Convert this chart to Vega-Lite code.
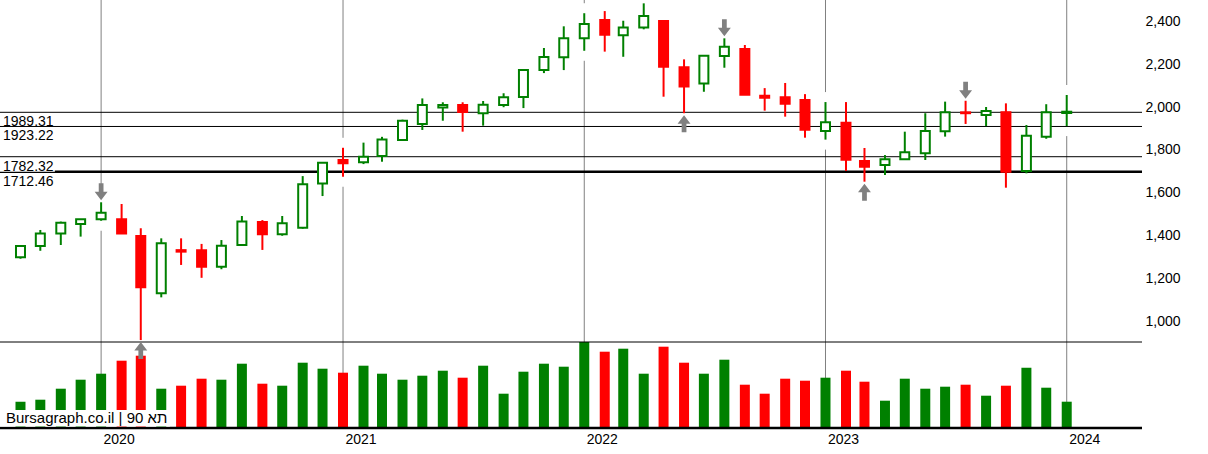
{
  "$schema": "https://vega.github.io/schema/vega-lite/v6.json",
  "width": 1142,
  "height": 428,
  "autosize": {"type": "none"},
  "padding": {"left": 0, "top": 0, "right": 66, "bottom": 26},
  "background": "white",
  "config": {"view": {"stroke": null}, "font": "Liberation Sans"},
  "datasets": {
    "years": [
      {"date": "2020-01-01", "year": "2020"}, {"date": "2021-01-01", "year": "2021"}, {"date": "2022-01-01", "year": "2022"}, {"date": "2023-01-01", "year": "2023"}, {"date": "2024-01-01", "year": "2024"}
    ],
    "levels": [
      {"price": 1989.31, "label": "1989.31"},
      {"price": 1923.22, "label": "1923.22"},
      {"price": 1782.32, "label": "1782.32"},
      {"price": 1712.46, "label": "1712.46"}
    ],
    "candles": [
      {"date": "2019-09-01", "open": 1314, "high": 1368, "low": 1307, "close": 1366, "volume": 26.3},
      {"date": "2019-10-01", "open": 1366, "high": 1441, "low": 1344, "close": 1425, "volume": 28.3},
      {"date": "2019-11-01", "open": 1425, "high": 1480, "low": 1371, "close": 1475, "volume": 39.3},
      {"date": "2019-12-01", "open": 1469, "high": 1492, "low": 1410, "close": 1491, "volume": 48.3},
      {"date": "2020-01-01", "open": 1491, "high": 1570, "low": 1484, "close": 1521, "volume": 54.3, "arrow": "down"},
      {"date": "2020-02-01", "open": 1491, "high": 1562, "low": 1423, "close": 1425, "volume": 67.3},
      {"date": "2020-03-01", "open": 1413, "high": 1449, "low": 928, "close": 1174, "volume": 72.3, "arrow": "up"},
      {"date": "2020-04-01", "open": 1146, "high": 1402, "low": 1127, "close": 1379, "volume": 39.3},
      {"date": "2020-05-01", "open": 1347, "high": 1402, "low": 1278, "close": 1340, "volume": 42.3},
      {"date": "2020-06-01", "open": 1347, "high": 1376, "low": 1218, "close": 1270, "volume": 49.3},
      {"date": "2020-07-01", "open": 1270, "high": 1394, "low": 1258, "close": 1368, "volume": 48.3},
      {"date": "2020-08-01", "open": 1371, "high": 1506, "low": 1371, "close": 1480, "volume": 64.3},
      {"date": "2020-09-01", "open": 1478, "high": 1487, "low": 1348, "close": 1421, "volume": 44.3},
      {"date": "2020-10-01", "open": 1421, "high": 1506, "low": 1414, "close": 1472, "volume": 42.3},
      {"date": "2020-11-01", "open": 1451, "high": 1692, "low": 1447, "close": 1654, "volume": 65.3},
      {"date": "2020-12-01", "open": 1658, "high": 1756, "low": 1599, "close": 1754, "volume": 59.3},
      {"date": "2021-01-01", "open": 1767, "high": 1824, "low": 1689, "close": 1752, "volume": 55.3},
      {"date": "2021-02-01", "open": 1756, "high": 1848, "low": 1748, "close": 1782, "volume": 62.3},
      {"date": "2021-03-01", "open": 1786, "high": 1875, "low": 1759, "close": 1863, "volume": 54.3},
      {"date": "2021-04-01", "open": 1860, "high": 1955, "low": 1857, "close": 1950, "volume": 48.3},
      {"date": "2021-05-01", "open": 1935, "high": 2054, "low": 1907, "close": 2023, "volume": 52.3},
      {"date": "2021-06-01", "open": 2012, "high": 2036, "low": 1950, "close": 2023, "volume": 57.3},
      {"date": "2021-07-01", "open": 2023, "high": 2036, "low": 1899, "close": 1991, "volume": 50.3},
      {"date": "2021-08-01", "open": 1985, "high": 2042, "low": 1927, "close": 2025, "volume": 62.3},
      {"date": "2021-09-01", "open": 2023, "high": 2078, "low": 2013, "close": 2059, "volume": 34.3},
      {"date": "2021-10-01", "open": 2061, "high": 2186, "low": 2009, "close": 2186, "volume": 56.3},
      {"date": "2021-11-01", "open": 2186, "high": 2289, "low": 2172, "close": 2247, "volume": 64.3},
      {"date": "2021-12-01", "open": 2246, "high": 2390, "low": 2186, "close": 2334, "volume": 61.3},
      {"date": "2022-01-01", "open": 2334, "high": 2451, "low": 2276, "close": 2401, "volume": 86},
      {"date": "2022-02-01", "open": 2419, "high": 2461, "low": 2272, "close": 2351, "volume": 76.3},
      {"date": "2022-03-01", "open": 2348, "high": 2416, "low": 2248, "close": 2385, "volume": 79.3},
      {"date": "2022-04-01", "open": 2384, "high": 2497, "low": 2376, "close": 2438, "volume": 54.3},
      {"date": "2022-05-01", "open": 2415, "high": 2415, "low": 2062, "close": 2202, "volume": 81.3},
      {"date": "2022-06-01", "open": 2199, "high": 2236, "low": 1985, "close": 2109, "volume": 65.3, "arrow": "up"},
      {"date": "2022-07-01", "open": 2124, "high": 2253, "low": 2085, "close": 2253, "volume": 54.3},
      {"date": "2022-08-01", "open": 2252, "high": 2334, "low": 2197, "close": 2295, "volume": 68.3, "arrow": "down"},
      {"date": "2022-09-01", "open": 2284, "high": 2303, "low": 2071, "close": 2071, "volume": 43.3},
      {"date": "2022-10-01", "open": 2067, "high": 2102, "low": 1997, "close": 2057, "volume": 34.3},
      {"date": "2022-11-01", "open": 2059, "high": 2126, "low": 1969, "close": 2029, "volume": 49.3},
      {"date": "2022-12-01", "open": 2047, "high": 2074, "low": 1871, "close": 1908, "volume": 47.3},
      {"date": "2023-01-01", "open": 1902, "high": 2037, "low": 1862, "close": 1943, "volume": 50.3},
      {"date": "2023-02-01", "open": 1941, "high": 2037, "low": 1716, "close": 1768, "volume": 57.3},
      {"date": "2023-03-01", "open": 1762, "high": 1823, "low": 1666, "close": 1736, "volume": 46.3, "arrow": "up"},
      {"date": "2023-04-01", "open": 1744, "high": 1790, "low": 1697, "close": 1770, "volume": 27.3},
      {"date": "2023-05-01", "open": 1770, "high": 1899, "low": 1770, "close": 1803, "volume": 49.3},
      {"date": "2023-06-01", "open": 1798, "high": 1985, "low": 1767, "close": 1902, "volume": 39.3},
      {"date": "2023-07-01", "open": 1901, "high": 2039, "low": 1876, "close": 1989, "volume": 41.3},
      {"date": "2023-08-01", "open": 1989, "high": 2043, "low": 1935, "close": 1985, "volume": 43.3, "arrow": "down"},
      {"date": "2023-09-01", "open": 1977, "high": 2014, "low": 1925, "close": 1995, "volume": 32.3},
      {"date": "2023-10-01", "open": 1989, "high": 2031, "low": 1638, "close": 1712, "volume": 42.3},
      {"date": "2023-11-01", "open": 1716, "high": 1930, "low": 1705, "close": 1880, "volume": 60.3},
      {"date": "2023-12-01", "open": 1875, "high": 2027, "low": 1866, "close": 1989, "volume": 40.3},
      {"date": "2024-01-01", "open": 1986, "high": 2070, "low": 1925, "close": 1992, "volume": 26.3}
    ]
  },
  "layer": [
    {
      "data": {"name": "years"},
      "mark": {"type": "rule", "color": "#808080", "strokeWidth": 1},
      "encoding": {
        "x": {"field": "date", "type": "temporal", "scale": {"type": "utc", "nice": false, "padding": 0, "domain": [1564617600000, 1713908160000]}, "axis": null},
        "y": {"datum": 428, "type": "quantitative", "scale": {"domain": [0, 428], "nice": false, "zero": false}, "axis": null},
        "y2": {"datum": 0}
      }
    },
    {
      "data": {"name": "candles"},
      "mark": {"type": "rule", "color": "white", "strokeWidth": 6, "yOffset": -10, "y2Offset": 10},
      "encoding": {
        "x": {"field": "date", "type": "temporal", "axis": null},
        "y": {"field": "high", "type": "quantitative", "scale": {"domain": [518.2, 2512.6], "nice": false, "zero": false}, "axis": null},
        "y2": {"field": "low"}
      }
    },
    {
      "data": {"name": "levels"},
      "transform": [{"filter": "datum.label == '1712.46'"}],
      "mark": {"type": "rule", "color": "black", "strokeWidth": 2.5},
      "encoding": {
        "y": {"field": "price", "type": "quantitative", "scale": {"domain": [518.2, 2512.6], "nice": false, "zero": false}, "axis": null}
      }
    },
    {
      "data": {"name": "levels"},
      "mark": {"type": "rect", "color": "white", "yOffset": 1.5, "y2Offset": 15},
      "encoding": {
        "x": {"datum": 1564617600000, "type": "temporal", "axis": null},
        "x2": {"datum": 1571788800000},
        "y": {"field": "price", "type": "quantitative", "scale": {"domain": [518.2, 2512.6], "nice": false, "zero": false}, "axis": null},
        "y2": {"field": "price"}
      }
    },
    {
      "data": {"name": "levels"},
      "transform": [{"filter": "datum.label != '1712.46'"}],
      "mark": {"type": "rule", "color": "black", "strokeWidth": 1},
      "encoding": {
        "y": {"field": "price", "type": "quantitative", "scale": {"domain": [518.2, 2512.6], "nice": false, "zero": false}, "axis": null}
      }
    },
    {
      "data": {"name": "levels"},
      "mark": {"type": "text", "align": "left", "baseline": "alphabetic", "dx": 3, "dy": 14, "fontSize": 14, "color": "black", "font": "Liberation Sans"},
      "encoding": {
        "x": {"datum": 1564617600000, "type": "temporal", "axis": null},
        "y": {"field": "price", "type": "quantitative", "scale": {"domain": [518.2, 2512.6], "nice": false, "zero": false}, "axis": null},
        "text": {"field": "label"}
      }
    },
    {
      "data": {"name": "candles"},
      "mark": {"type": "rule", "strokeWidth": 2},
      "encoding": {
        "x": {"field": "date", "type": "temporal", "axis": null},
        "y": {"field": "low", "type": "quantitative", "scale": {"domain": [518.2, 2512.6], "nice": false, "zero": false}, "axis": null},
        "y2": {"field": "high"},
        "color": {"condition": {"test": "datum.close >= datum.open", "value": "#008000"}, "value": "#ff0000"}
      }
    },
    {
      "data": {"name": "candles"},
      "mark": {"type": "bar", "width": 9, "strokeWidth": 2},
      "encoding": {
        "x": {"field": "date", "type": "temporal", "axis": null},
        "y": {
          "field": "open", "type": "quantitative",
          "scale": {"domain": [518.2, 2512.6], "nice": false, "zero": false},
          "axis": {
            "orient": "right",
            "values": [1000, 1200, 1400, 1600, 1800, 2000, 2200, 2400],
            "format": ",.0f", "labelFontSize": 14, "labelColor": "black", "labelFont": "Liberation Sans",
            "ticks": false, "domain": false, "grid": false, "labelPadding": 3, "labelOffset": -3, "title": null
          }
        },
        "y2": {"field": "close"},
        "fill": {"condition": {"test": "datum.close >= datum.open", "value": "white"}, "value": "#ff0000"},
        "stroke": {"condition": {"test": "datum.close >= datum.open", "value": "#008000"}, "value": "#ff0000"}
      }
    },
    {
      "data": {"name": "candles"},
      "mark": {"type": "bar", "width": 10},
      "encoding": {
        "x": {"field": "date", "type": "temporal", "axis": null},
        "y": {"field": "volume", "type": "quantitative", "scale": {"domain": [0, 428], "nice": false, "zero": false}, "axis": null},
        "y2": {"datum": 0},
        "color": {"condition": {"test": "datum.close >= datum.open", "value": "#008000"}, "value": "#ff0000"}
      }
    },
    {
      "data": {"values": [{"v": 86}]},
      "mark": {"type": "rule", "color": "black", "strokeWidth": 1},
      "encoding": {
        "y": {"field": "v", "type": "quantitative", "scale": {"domain": [0, 428], "nice": false, "zero": false}, "axis": null}
      }
    },
    {
      "data": {"values": [{"v": 0}]},
      "mark": {"type": "rule", "color": "black", "strokeWidth": 2.5},
      "encoding": {
        "y": {"field": "v", "type": "quantitative", "scale": {"domain": [0, 428], "nice": false, "zero": false}, "axis": null}
      }
    },
    {
      "data": {"name": "years"},
      "mark": {"type": "text", "align": "center", "baseline": "alphabetic", "dx": 18, "dy": 16, "fontSize": 14, "color": "black", "font": "Liberation Sans"},
      "encoding": {
        "x": {"field": "date", "type": "temporal", "axis": null},
        "y": {"datum": 0, "type": "quantitative", "scale": {"domain": [0, 428], "nice": false, "zero": false}, "axis": null},
        "text": {"field": "year"}
      }
    },
    {
      "data": {"values": [{"v": 18, "v2": 1.5}]},
      "mark": {"type": "rect", "color": "white"},
      "encoding": {
        "x": {"datum": 1564617600000, "type": "temporal", "axis": null},
        "x2": {"datum": 1586822400000},
        "y": {"field": "v", "type": "quantitative", "scale": {"domain": [0, 428], "nice": false, "zero": false}, "axis": null},
        "y2": {"field": "v2"}
      }
    },
    {
      "data": {"values": [{"text": "Bursagraph.co.il | תא 90", "v": 0}]},
      "mark": {"type": "text", "align": "left", "baseline": "alphabetic", "dx": 6, "dy": -5, "fontSize": 15, "color": "black", "font": "Liberation Sans"},
      "encoding": {
        "x": {"datum": 1564617600000, "type": "temporal", "axis": null},
        "y": {"field": "v", "type": "quantitative", "scale": {"domain": [0, 428], "nice": false, "zero": false}, "axis": null},
        "text": {"field": "text"}
      }
    },
    {
      "data": {"name": "candles"},
      "transform": [{"filter": "datum.arrow == 'down'"}],
      "mark": {"type": "point", "shape": "M-0.28,-1L0.28,-1L0.28,0L0.76,0L0,1L-0.76,0L-0.28,0Z", "size": 289, "filled": true, "color": "#808080", "opacity": 1, "yOffset": -10.5},
      "encoding": {
        "x": {"field": "date", "type": "temporal", "axis": null},
        "y": {"field": "high", "type": "quantitative", "scale": {"domain": [518.2, 2512.6], "nice": false, "zero": false}, "axis": null}
      }
    },
    {
      "data": {"name": "candles"},
      "transform": [{"filter": "datum.arrow == 'up'"}],
      "mark": {"type": "point", "shape": "M-0.28,1L0.28,1L0.28,0L0.76,0L0,-1L-0.76,0L-0.28,0Z", "size": 289, "filled": true, "color": "#808080", "opacity": 1, "yOffset": 10.5},
      "encoding": {
        "x": {"field": "date", "type": "temporal", "axis": null},
        "y": {"field": "low", "type": "quantitative", "scale": {"domain": [518.2, 2512.6], "nice": false, "zero": false}, "axis": null}
      }
    }
  ],
  "resolve": {"scale": {"y": "independent"}}
}
